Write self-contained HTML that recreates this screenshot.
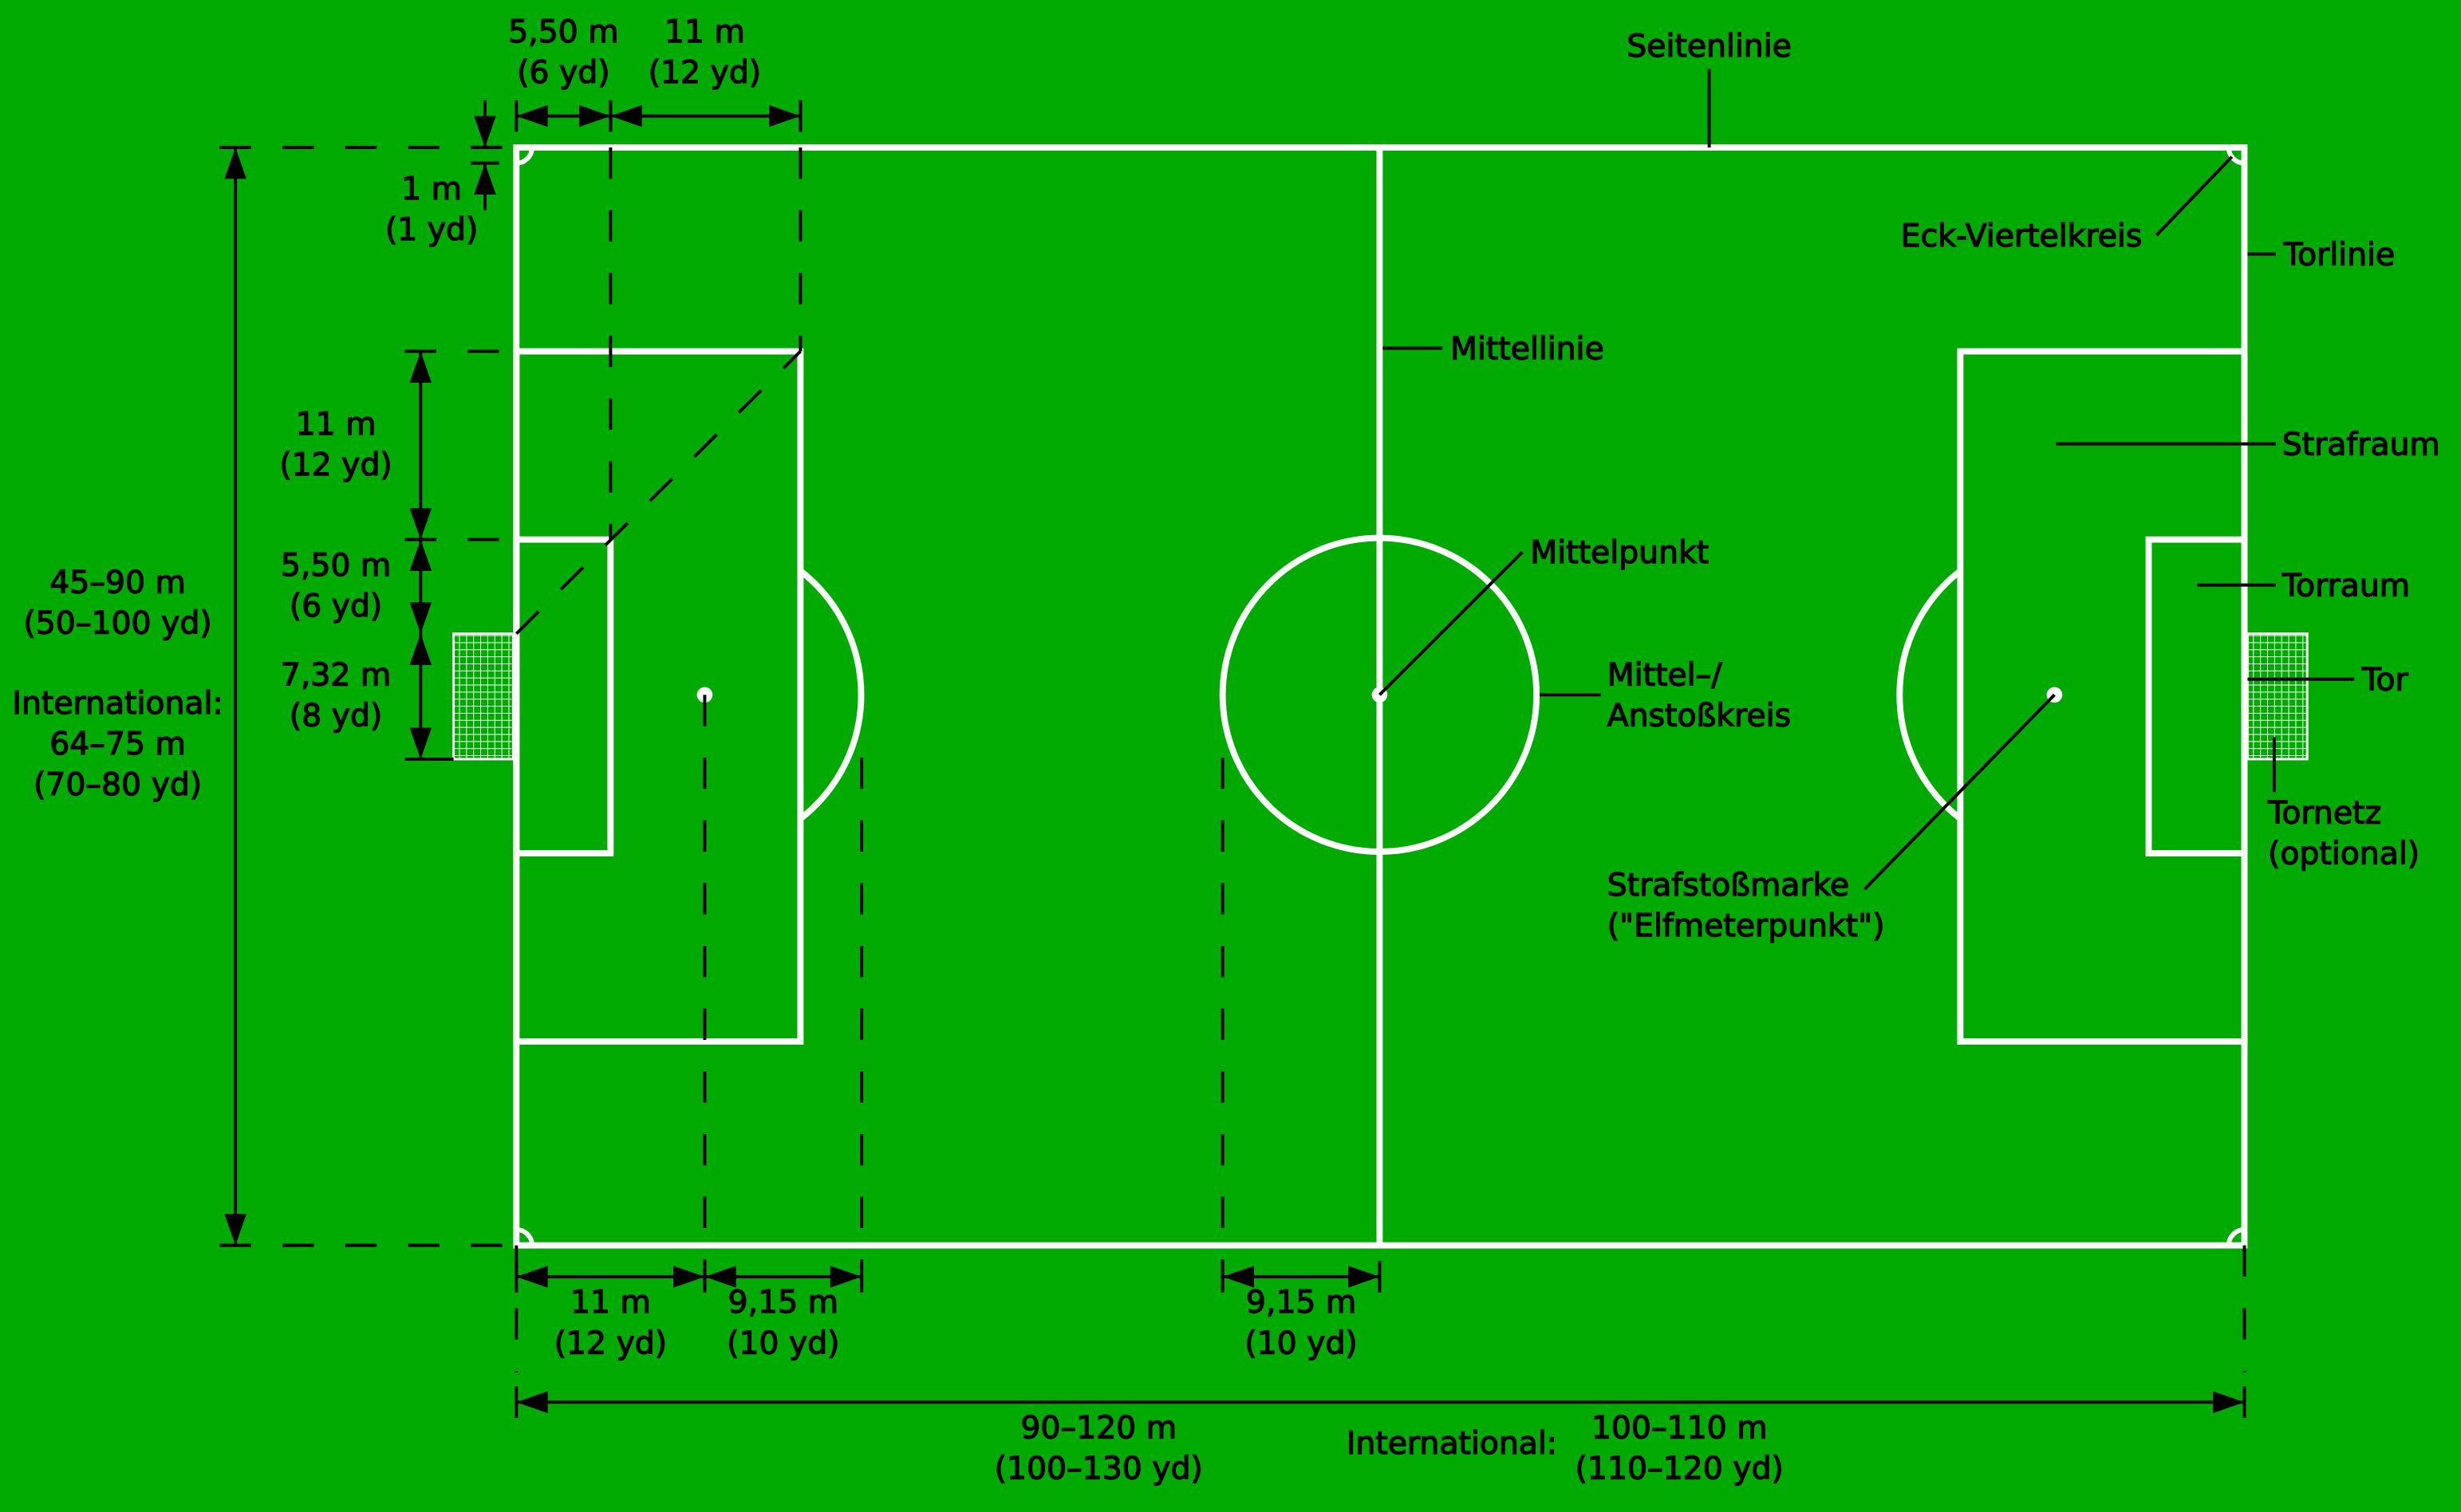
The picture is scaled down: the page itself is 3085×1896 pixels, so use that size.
<!DOCTYPE html>
<html><head><meta charset="utf-8"><style>
html,body{margin:0;padding:0;background:#00aa00;}
svg{display:block;}
text{font-family:"DejaVu Sans","Liberation Sans",sans-serif;font-size:20px;fill:#000;stroke:#000;stroke-width:0.7;}
</style></head><body>
<svg id="pitch" width="3085" height="1896" viewBox="0 0 1568 964" preserveAspectRatio="none" xmlns="http://www.w3.org/2000/svg">
<defs>
<pattern id="net" width="4.5" height="4.5" patternUnits="userSpaceOnUse"><path d="M0 0H4.5M0 0V4.5" stroke="#fff" stroke-width="1" fill="none"/></pattern>
</defs>
<rect x="0" y="0" width="1568" height="964" fill="#00aa00"/>
<g id="field" fill="none" stroke="#fff" stroke-width="4">
<rect x="329" y="94" width="1101" height="700"/>
<line x1="879" y1="94" x2="879" y2="794"/>
<circle cx="879" cy="443" r="100"/>
<rect x="329" y="224" width="181" height="440"/>
<rect x="329" y="344" width="60" height="200"/>
<path d="M510 364 A100 100 0 0 1 510 522"/>
<rect x="1249" y="224" width="181" height="440"/>
<rect x="1369" y="344" width="61" height="200"/>
<path d="M1249 364 A100 100 0 0 0 1249 522"/>
<path d="M329 104 A10 10 0 0 0 339 94 M339 794 A10 10 0 0 0 329 784 M1420 94 A10 10 0 0 0 1430 104 M1430 784 A10 10 0 0 0 1420 794" stroke-width="3"/>
</g>
<circle cx="879" cy="443" r="5" fill="#fff"/>
<circle cx="449" cy="443" r="5" fill="#fff"/>
<circle cx="1309" cy="443" r="5" fill="#fff"/>
<rect x="289" y="404" width="38" height="80" fill="url(#net)" stroke="#fff" stroke-width="1.5"/>
<rect x="1432" y="404" width="38" height="80" fill="url(#net)" stroke="#fff" stroke-width="1.5"/>
<g id="dims" stroke="#000" stroke-width="2" fill="none"></g>
<g id="labels"></g>
</svg>
<script>
var NS='http://www.w3.org/2000/svg';
var dims=document.getElementById('dims');
var labs=document.getElementById('labels');
function mk(tag,attrs,parent){var e=document.createElementNS(NS,tag);for(var k in attrs)e.setAttribute(k,attrs[k]);parent.appendChild(e);return e;}
function dash(x1,y1,x2,y2){var e=mk('line',{x1:x1,y1:y1,x2:x2,y2:y2,'stroke-dasharray':'20 20'},dims);

}
function ln(x1,y1,x2,y2,w){var e=mk('line',{x1:x1,y1:y1,x2:x2,y2:y2,'stroke-width':w||2},dims);

}
function head(x,y,dx,dy){var L=20,W=7;var px=-dy,py=dx;
var e=mk('polygon',{points:x+','+y+' '+(x-dx*L+px*W)+','+(y-dy*L+py*W)+' '+(x-dx*L-px*W)+','+(y-dy*L-py*W),fill:'#000',stroke:'none'},dims);

}
function harrow(x1,x2,y){ln(x1,y,x2,y);head(x1,y,-1,0);head(x2,y,1,0);}
function varrow(x,y1,y2){ln(x,y1,x,y2);head(x,y1,0,-1);head(x,y2,0,1);}
function txt(lines,x,y,anchor){for(var i=0;i<lines.length;i++){var t=mk('text',{x:x,y:y+i*26,'text-anchor':anchor||'middle'},labs);t.textContent=lines[i];

}}
dash(389,94,389,344);dash(510,94,510,224);
dash(389,64,389,84);dash(510,64,510,84);
dash(140,94,329,94);dash(140,794,329,794);
dash(258,224,329,224);dash(258,344,329,344);ln(258,484,289,484);
dash(449,443,449,825);dash(549,483,549,825);dash(779,483,779,825);
dash(329,794,329,875);dash(1430,794,1430,875);
dash(329,404,510,224);
ln(329,64,329,84);ln(389,64,389,84);ln(510,64,510,84);
harrow(329,389,74);harrow(389,510,74);
ln(300,94,318,94);ln(300,104,318,104);
ln(309,64,309,94);head(309,94,0,1);ln(309,104,309,134);head(309,104,0,-1);
varrow(150,94,794);
ln(258,224,278,224);
varrow(268,224,344);varrow(268,344,404);varrow(268,404,484);
ln(449,804,449,824);ln(549,804,549,824);ln(779,804,779,824);ln(879,804,879,824);ln(329,804,329,824);
harrow(329,449,814);harrow(449,549,814);harrow(779,879,814);
ln(329,884,329,904);ln(1430,884,1430,904);
harrow(329,1430,894);
ln(1089,44,1089,94);ln(1374,150,1422,100);ln(1432,162,1450,162);ln(881,222,919,222);
ln(1310,283,1450,283);ln(879,443,970,352);ln(1400,373,1450,373);ln(981,443,1020,443);
ln(1432,433,1500,433);ln(1449,470,1449,505);ln(1188,567,1309,443);
txt(['5,50 m','(6 yd)'],359,27);txt(['11 m','(12 yd)'],449,27);
txt(['Seitenlinie'],1089,36);
txt(['1 m','(1 yd)'],275,127);
txt(['11 m','(12 yd)'],214,277);txt(['5,50 m','(6 yd)'],214,367);txt(['7,32 m','(8 yd)'],214,437);
txt(['45–90 m','(50–100 yd)'],75,378);txt(['International:','64–75 m','(70–80 yd)'],75,455);
txt(['Eck-Viertelkreis'],1211,157,'start');txt(['Torlinie'],1455,169,'start');
txt(['Mittellinie'],924,229,'start');txt(['Strafraum'],1454,290,'start');
txt(['Mittelpunkt'],975,359,'start');txt(['Torraum'],1454,380,'start');
txt(['Mittel–/','Anstoßkreis'],1024,437,'start');txt(['Tor'],1505,440,'start');
txt(['Tornetz','(optional)'],1445,525,'start');
txt(['Strafstoßmarke','("Elfmeterpunkt")'],1024,571,'start');
txt(['11 m','(12 yd)'],389,837);txt(['9,15 m','(10 yd)'],499,837);txt(['9,15 m','(10 yd)'],829,837);
txt(['90–120 m','(100–130 yd)'],700,917);txt(['International:'],925,927);txt(['100–110 m','(110–120 yd)'],1070,917);
</script>
</body></html>
